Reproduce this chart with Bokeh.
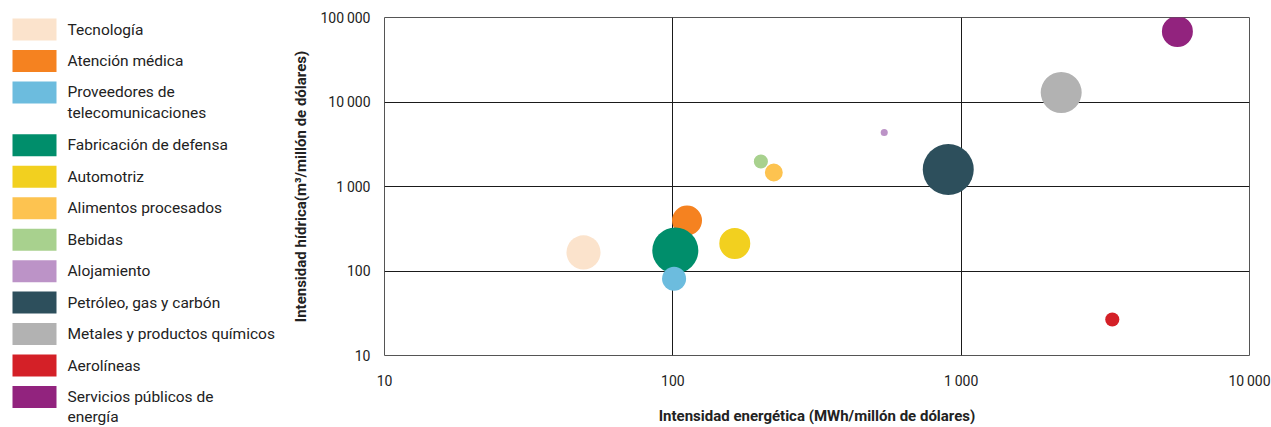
from bokeh.plotting import figure
from bokeh.models import Range1d, FixedTicker, ColumnDataSource
from bokeh.layouts import row
from bokeh.embed import file_html
from bokeh.resources import INLINE
from bokeh.core.properties import value

# ---------------- data ----------------
sectores = [
    "Tecnología",
    "Atención médica",
    "Proveedores de\ntelecomunicaciones",
    "Fabricación de defensa",
    "Automotriz",
    "Alimentos procesados",
    "Bebidas",
    "Alojamiento",
    "Petróleo, gas y carbón",
    "Metales y productos químicos",
    "Aerolíneas",
    "Servicios públicos de\nenergía",
]
colores = [
    "#FBE3CC", "#F58220", "#6CBCDE", "#008E6B", "#F2D01F", "#FDC350",
    "#A8D18E", "#BC93C7", "#2D4F5C", "#B2B2B2", "#D42027", "#92237E",
]
intensidad_energetica = [49, 112, 101, 102, 164, 224, 202, 541, 902, 2223, 3343, 5623]
intensidad_hidrica = [166, 396, 81, 175, 212, 1465, 1977, 4355, 1589, 12950, 26.7, 68230]
peso = [11.6, 9.0, 5.8, 21.2, 9.6, 3.2, 2.0, 0.5, 26.0, 16.8, 2.0, 9.6]

ticks_valores = [10, 100, 1000, 10000, 100000]
ticks_etiquetas = ["10", "100", "1\u2009000", "10\u2009000", "100\u2009000"]

FONT = "Roboto"
H = 427

# ---------------- legend figure ----------------
LW = 288
leg = figure(width=LW, height=H, x_range=Range1d(0, LW), y_range=Range1d(H, 0),
             toolbar_location=None, output_backend="svg", min_border=0)
leg.frame_align = False
leg.axis.visible = False
leg.grid.visible = False
leg.outline_line_color = None

step, extra, y0 = 31.45, 21.5, 29.0
ry, tx, ty, tt = [], [], [], []
y = y0
for s in sectores:
    lines = s.split("\n")
    ry.append(y)
    for k, ln in enumerate(lines):
        tx.append(67)
        ty.append(y + k * 20.5)
        tt.append(ln)
    y += step + extra * (len(lines) - 1)

leg.rect(x=[34] * len(sectores), y=ry, width=44, height=22, fill_color=colores,
         line_color=None)
leg.text(x=tx, y=ty, text=tt, text_font=value(FONT), text_font_size="15.5px",
         text_baseline="middle", text_align="left", text_color="#222222")

# ---------------- main figure ----------------
p = figure(width=1271 - LW, height=H, x_axis_type="log", y_axis_type="log",
           x_range=Range1d(10, 10000), y_range=Range1d(10, 100000),
           toolbar_location=None, output_backend="svg",
           min_border_left=96, min_border_right=22, min_border_top=17,
           min_border_bottom=72)
p.frame_align = False

orden = [0, 1, 3, 2, 4, 5, 6, 7, 8, 9, 10, 11]
src = ColumnDataSource(dict(
    x=[intensidad_energetica[i] for i in orden],
    y=[intensidad_hidrica[i] for i in orden],
    s=[10 * peso[i] ** 0.5 for i in orden],
    c=[colores[i] for i in orden],
))
p.scatter("x", "y", size="s", fill_color="c", line_color=None, source=src)

overrides = {float(v): t for v, t in zip(ticks_valores, ticks_etiquetas)}
for ax in (p.xaxis[0], p.yaxis[0]):
    ax.ticker = FixedTicker(ticks=ticks_valores)
    ax.minor_tick_line_color = None
    ax.major_tick_line_color = None
    ax.major_tick_out = 0
    ax.major_tick_in = 0
    ax.minor_tick_out = 0
    ax.minor_tick_in = 0
    ax.axis_line_color = None
    ax.major_label_overrides = overrides
    ax.major_label_text_font = FONT
    ax.major_label_text_font_size = "14px"
    ax.major_label_text_color = "#222222"
    ax.axis_label_text_font = FONT
    ax.axis_label_text_font_size = "15px"
    ax.axis_label_text_font_style = "bold"
    ax.axis_label_text_color = "#222222"

p.xaxis.axis_label = "Intensidad energética (MWh/millón de dólares)"
p.yaxis.axis_label = "Intensidad hídrica(m³/millón de dólares)"
p.xaxis.major_label_standoff = 17
p.yaxis.major_label_standoff = 14
p.xaxis.axis_label_standoff = 15
p.yaxis.axis_label_standoff = 7

p.xgrid.ticker = FixedTicker(ticks=[100, 1000])
p.ygrid.ticker = FixedTicker(ticks=[100, 1000, 10000])
p.grid.grid_line_color = "#1a1a1a"
p.grid.grid_line_width = 1
p.outline_line_color = "#555555"
p.outline_line_width = 1

layout = row(leg, p)
open("out.html", "w").write(file_html(layout, INLINE))
